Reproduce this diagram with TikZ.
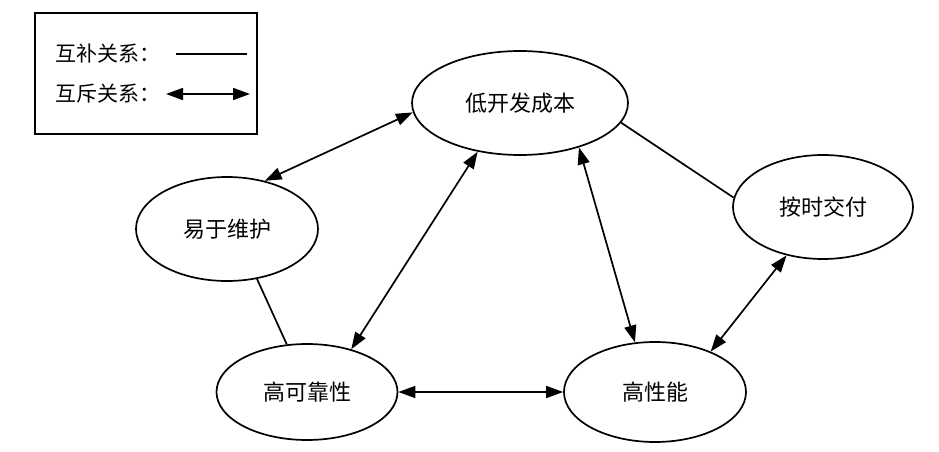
\documentclass[tikz,border=0pt]{standalone}
\usepackage{fontspec}
\setmainfont{Noto Sans CJK SC}
\usetikzlibrary{shapes.geometric,arrows.meta}
\tikzset{
  goal/.style={draw, ellipse, line width=1.7pt, inner sep=0pt, font=\fontsize{22}{26}\selectfont},
  comp/.style={line width=1.7pt},
  excl/.style={line width=1.7pt, {Triangle[length=17pt,width=12pt]}-{Triangle[length=17pt,width=12pt]}},
  legtext/.style={anchor=west, inner sep=0pt, font=\fontsize{21}{25}\selectfont}
}
\begin{document}
\begin{tikzpicture}[x=1pt,y=-1pt]
\useasboundingbox (0,0) rectangle (939,452);
% legend
\node[draw, line width=1.7pt, minimum width=222pt, minimum height=121pt, inner sep=0pt] (legend) at (146,73.5) {};
\node[legtext] (l1) at (55,54) {互补关系：};
\node[legtext] (l2) at (55,94) {互斥关系：};
\coordinate (l1a) at (176,54);
\coordinate (l1b) at (247,54);
\coordinate (l2a) at (166,94);
\coordinate (l2b) at (250,94);
\draw[comp] (l1a) -- (l1b);
\draw[excl] (l2a) -- (l2b);
% goals
\node[goal, minimum width=216pt, minimum height=104pt] (cost) at (520,103) {低开发成本};
\node[goal, minimum width=182pt, minimum height=104pt] (maint) at (227,229) {易于维护};
\node[goal, minimum width=180pt, minimum height=104pt] (ontime) at (823,207) {按时交付};
\node[goal, minimum width=181pt, minimum height=96pt] (reliab) at (307,392) {高可靠性};
\node[goal, minimum width=182pt, minimum height=100pt] (perf) at (655,392) {高性能};
% relations
\draw[excl] (cost.185) -- (maint.52);
\draw[excl] (cost.229) -- (reliab.44);
\draw[excl] (cost.323) -- (perf.112);
\draw[comp] (cost.349) -- (ontime.174);
\draw[comp] (maint.301) -- (reliab.113);
\draw[excl] (reliab.east) -- (perf.west);
\draw[excl] (ontime.233) -- (perf.36);
\end{tikzpicture}
\end{document}
